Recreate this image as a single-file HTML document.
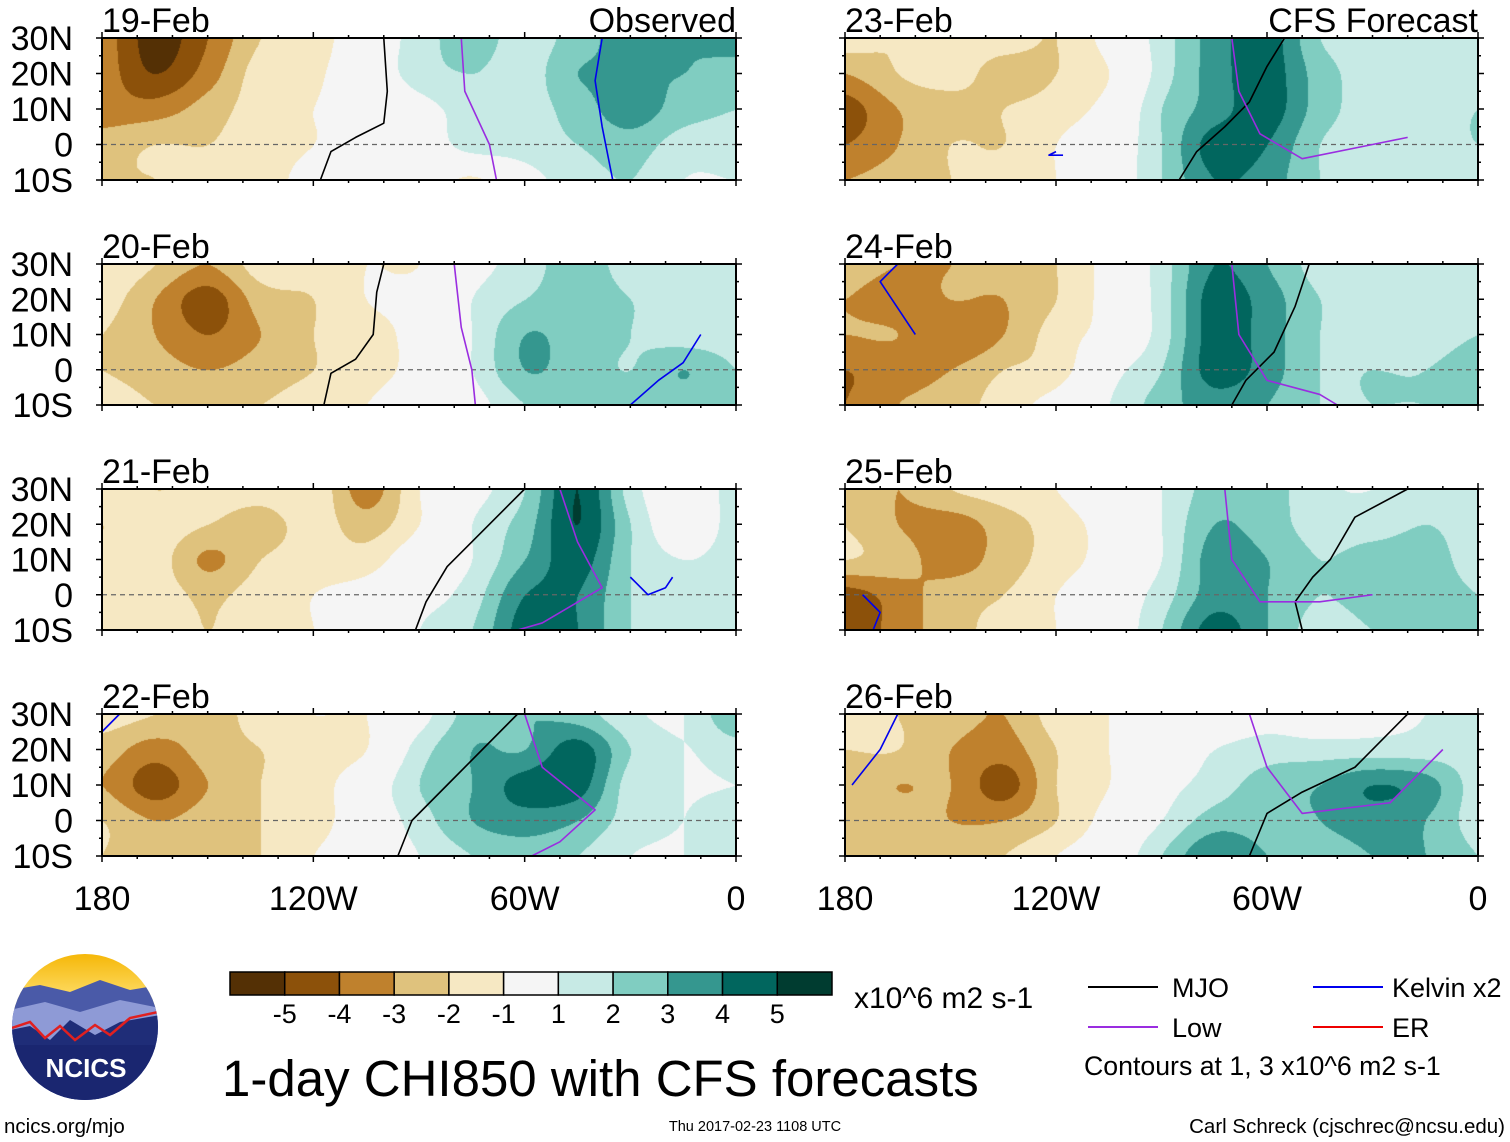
<!DOCTYPE html>
<html><head><meta charset="utf-8">
<style>
html,body{margin:0;padding:0;background:#fff;}
#wrap{position:relative;width:1510px;height:1142px;overflow:hidden;font-family:"Liberation Sans",sans-serif;}
canvas{position:absolute;}
svg{position:absolute;left:0;top:0;}
</style></head><body>
<div id="wrap">
<svg id="ov" width="1510" height="1142"></svg>
</div>
<script>
// ---- data ----
const lons = [180,165,150,135,120,105,90,75,60,45,30,15,0]; // degrees W
const lats = [30,20,10,0,-10];
const panelDates = ["19-Feb","20-Feb","21-Feb","22-Feb","23-Feb","24-Feb","25-Feb","26-Feb"];
const levelBounds = [-5,-4,-3,-2,-1,1,2,3,4,5];
const levelColors = ['#543005','#8c510a','#bf812d','#dfc27d','#f6e8c3','#f5f5f5','#c7eae5','#80cdc1','#35978f','#01665e','#003c30'];
const cbarLabels = ["-5","-4","-3","-2","-1","1","2","3","4","5"];
const latLabels = ["30N","20N","10N","0","10S"];
const lonLabels = ["180","120W","60W","0"];
const lonLabelVals = [180,120,60,0];
const field19 = [
[-3.5,-5.5,-4,-2,-1.5,0,1.5,2.5,1.5,2.5,3.5,3,3.5],
[-3.5,-5,-3.5,-1.5,-1.2,0,1.5,2,1.5,3,3,3,2.5],
[-3.5,-3.5,-2.5,-1.5,-1,-0.5,0.5,1.5,1.5,2.5,3.5,2.5,2],
[-2.5,-2,-2,-1.5,-1,-0.5,0,1.5,1.5,2,2.5,1.5,1.5],
[-2,-2,-1.8,-1.5,-0.5,0,0,-1.2,0.5,1.5,2,1,1]];
const field20 = [
[-1,-2,-3,-1.5,-1.5,-1,-1,0.5,1.5,2.5,1.5,1,1.5],
[-1.5,-3,-4.5,-2.5,-2,-1,-0.5,1,2,2.5,2,1.5,1.5],
[-2,-3,-4,-3,-2,-1.5,-0.5,1,3,2.5,2,1.5,1.5],
[-2,-2.5,-3,-2.5,-2,-1.5,-0.5,1,3,2.5,2,3,2],
[-1.5,-2,-2,-2,-1.5,-1,0,0.5,2,2.5,2.5,2.5,2]];
const field21 = [
[-1,-2,-1.5,-1.5,-1.2,-3.5,-1,0.5,2,5,1.5,0,1.5],
[-2,-1.5,-2,-2.5,-1.5,-2.5,-1,1,2.5,5,2,0,1.5],
[-1.5,-1.5,-3.2,-2,-1.5,-1.5,0,1,3,4.5,2,1,1.5],
[-1.5,-1.5,-2.2,-1.5,-1,-0.5,0.5,1.5,4,4,2,1.5,1.5],
[-1,-1.5,-2,-1.5,-1,-0.5,1,2,4.5,4,2,1.5,1]];
const field22 = [
[-1.5,-2,-2.5,-1.5,-1,-1,0.5,2.5,3,2.5,1.2,1,3],
[-2.5,-3.5,-2.5,-2,-1.5,-1,1.5,3,3,4.5,2,1,1.5],
[-3,-4.5,-3,-2,-1.5,0,2,3,4.5,4.5,1.5,1,1],
[-2,-3,-2.5,-2,-1.5,0,1.5,3,3.5,3,1.5,1,1.5],
[-2,-2.5,-3,-2,-1,0,1,2,2.5,2,1,1,1.5]];
const field23 = [
[-1.5,-2,-1.5,-1.5,-2,-0.5,1.5,3.5,4.5,2,1.5,1.5,1.5],
[-3,-2,-1.5,-2.5,-2,-1,1.5,3.5,4.5,2.5,1.5,1.5,1.5],
[-4.5,-3,-2.5,-2,-1.5,-0.5,2,3.5,4.5,2.5,1.5,1.5,2],
[-4,-3,-2,-2,-1,0,2,4.5,4,2,1.5,1.5,2],
[-3,-2.5,-2,-1.5,-1,0,2,4,3.5,2,1.5,1.5,1.5]];
const field24 = [
[-2.5,-3,-3,-2.5,-2,-0.5,1.5,4,3,1.5,1,1.5,1.5],
[-3,-3.5,-3,-3,-2,-0.5,1.5,4.5,3.5,2,1.5,1.5,1.5],
[-3,-3,-4,-3,-1.5,-0.5,1.5,4.5,3.5,2,1.5,1.5,2],
[-4,-3.5,-3,-2,-1.5,0.5,2,4.5,3.5,2,2,2,2.5],
[-4,-3,-2.5,-1.5,-0.5,1,2.5,3.5,3,2,2,2,2]];
const field25 = [
[-2,-3,-2,-1.5,-1,0,1,2.5,2.5,1.2,1,1.5,1.5],
[-2,-3,-3.5,-2.5,-1.5,-0.5,1,3,2.5,1.5,1.5,2,1.5],
[-2,-2.5,-3.5,-2.5,-1.5,-0.5,1,3.5,3,2,2.5,2.5,1.5],
[-4.5,-3.5,-2.5,-2,-1,0,1.5,3.5,3,2,2.5,2.5,2],
[-5,-3.5,-2.5,-1.5,-1,0,2,4.5,3,1.5,2,2,2]];
const field26 = [
[-1.5,-2,-2.5,-3,-1.5,-1,0,0,0.5,0,0.5,1,1.5],
[-2,-2,-3,-3.5,-2,-1,0,1,1.5,1.5,1.5,1.5,1.5],
[-2.5,-3,-3,-4.5,-2,-1,0.5,1.5,2.5,3,4,3.5,1.5],
[-2.5,-2.5,-3,-3,-2,-0.5,1,2.5,2.5,3,3.5,3,1.5],
[-2.5,-2.5,-2.5,-2,-1,0,2,4,3,2.5,3,3,2]];
const fields = [field19,field20,field21,field22,field23,field24,field25,field26];
// contour lines [lonW, lat]
const mjoLines = [
[[118,-10],[115,-2],[108,2],[100,6],[99,15],[100,30]],
[[117,-10],[115,-1],[108,3],[103,10],[102,22],[100,30]],
[[91,-10],[88,-2],[82,8],[72,18],[60,30]],
[[96,-10],[92,0],[82,10],[72,20],[62,30]],
[[85,-10],[80,-2],[72,5],[65,12],[60,22],[55,30]],
[[70,-10],[66,-3],[58,5],[52,18],[48,30]],
[[50,-10],[52,-2],[47,5],[42,10],[35,22],[20,30]],
[[65,-10],[60,2],[50,8],[35,15],[20,30]]];
const lowLines = [
[[78,30],[77,15],[70,0],[68,-10]],
[[80,30],[78,12],[75,0],[74,-10]],
[[50,30],[45,15],[38,2],[55,-8],[62,-10]],
[[60,30],[55,15],[40,3],[50,-6],[58,-10]],
[[70,30],[68,15],[62,3],[50,-4],[30,0],[20,2]],
[[70,30],[68,10],[60,-3],[45,-7],[40,-10]],
[[72,30],[70,10],[62,-2],[45,-2],[30,0]],
[[65,30],[60,15],[50,2],[25,5],[10,20]]];
const kelvinLines = [
[[35,-10],[38,5],[40,18],[38,30]],
[[10,10],[15,2],[22,-3],[30,-10]],
[[30,5],[25,0],[20,2],[18,5]],
[[180,25],[175,30]],
[[120,-2],[122,-3],[118,-3]],
[[160,10],[170,25],[165,30]],
[[175,0],[170,-5],[172,-10]],
[[178,10],[170,20],[165,30]]];
// ---- layout ----
const panels = [];
const colX = [[102,736],[845,1478]];
const rowY = [[38,180],[264,405],[489,630],[714,856]];
for(let c=0;c<2;c++)for(let r=0;r<4;r++)panels.push({x0:colX[c][0],x1:colX[c][1],y0:rowY[r][0],y1:rowY[r][1]});
const wrap=document.getElementById('wrap');
const ov=document.getElementById('ov');
const NS="http://www.w3.org/2000/svg";
function mk(tag,attrs,parent){const e=document.createElementNS(NS,tag);for(const k in attrs)e.setAttribute(k,attrs[k]);(parent||ov).appendChild(e);return e;}
function levelOf(v){let i=0;while(i<levelBounds.length&&v>=levelBounds[i])i++;return i;}
function hex(c){return [parseInt(c.substr(1,2),16),parseInt(c.substr(3,2),16),parseInt(c.substr(5,2),16)];}
const rgb=levelColors.map(hex);
function cr(p0,p1,p2,p3,t){return 0.5*((2*p1)+(-p0+p2)*t+(2*p0-5*p1+4*p2-p3)*t*t+(-p0+3*p1-3*p2+p3)*t*t*t);}
function get(f,j,i){j=Math.max(0,Math.min(4,j));i=Math.max(0,Math.min(12,i));return f[j][i];}
function sample(f,lonW,lat){
  let fx=(180-lonW)/15, fy=(30-lat)/10;
  fx=Math.max(0,Math.min(12,fx)); fy=Math.max(0,Math.min(4,fy));
  const i=Math.min(11,Math.floor(fx)), j=Math.min(3,Math.floor(fy));
  const tx=fx-i, ty=fy-j;
  const rows=[];
  for(let m=-1;m<=2;m++)rows.push(cr(get(f,j+m,i-1),get(f,j+m,i),get(f,j+m,i+1),get(f,j+m,i+2),tx));
  return cr(rows[0],rows[1],rows[2],rows[3],ty);
}
panels.forEach((p,k)=>{
  const w=p.x1-p.x0,h=p.y1-p.y0;
  const cv=document.createElement('canvas');
  cv.width=w;cv.height=h;cv.style.left=p.x0+'px';cv.style.top=p.y0+'px';
  
  
  wrap.insertBefore(cv,ov);
  const ctx=cv.getContext('2d');const img=ctx.createImageData(w,h);
  for(let y=0;y<h;y++)for(let x=0;x<w;x++){
    const v=sample(fields[k],180-x/w*180,30-y/h*40);
    const c=rgb[levelOf(v)];const o=(y*w+x)*4;
    img.data[o]=c[0];img.data[o+1]=c[1];img.data[o+2]=c[2];img.data[o+3]=255;
  }
  ctx.putImageData(img,0,0);
  const X=lon=>p.x0+(180-lon)/180*w, Y=lat=>p.y0+(30-lat)/40*h;
  const g=mk('g',{});
  
  
  const eq=mk('line',{x1:p.x0,x2:p.x1,y1:Y(0),y2:Y(0),stroke:'#666','stroke-width':1.2,'stroke-dasharray':'5,4'},g);
  
  const drawLine=(pts,col,name)=>{
    const pl=mk('polyline',{points:pts.map(q=>X(q[0])+','+Y(q[1])).join(' '),fill:'none',stroke:col,'stroke-width':1.6,'stroke-linejoin':'round'},g);
    
  };
  drawLine(mjoLines[k],'#000','mjo-contour');
  drawLine(lowLines[k],'#9a2de0','low-contour');
  drawLine(kelvinLines[k],'#0000ee','kelvin-contour');
  const fr=mk('rect',{x:p.x0,y:p.y0,width:w,height:h,fill:'none',stroke:'#000','stroke-width':2},g);
  
  for(let lon=180;lon>=0;lon-=10){
    const major=lon%60===0, L=major?6:3;
    mk('line',{x1:X(lon),x2:X(lon),y1:p.y0,y2:p.y0-L,stroke:'#000','stroke-width':1.5},g);
    mk('line',{x1:X(lon),x2:X(lon),y1:p.y1,y2:p.y1+L,stroke:'#000','stroke-width':1.5},g);
  }
  for(let lat=30;lat>=-10;lat-=5){
    const L=lat%10===0?6:3;
    mk('line',{x1:p.x0,x2:p.x0-L,y1:Y(lat),y2:Y(lat),stroke:'#000','stroke-width':1.5},g);
    mk('line',{x1:p.x1,x2:p.x1+L,y1:Y(lat),y2:Y(lat),stroke:'#000','stroke-width':1.5},g);
  }
  const t=mk('text',{x:p.x0,y:p.y0-6,'font-size':34},g);t.textContent=panelDates[k];
  
  if(k<4){
    lats.forEach((lat,i)=>{const tt=mk('text',{x:73,y:Y(lat)+12,'font-size':34,'text-anchor':'end'},g);tt.textContent=latLabels[i];
      });
  }
  if(k%4===3){
    lonLabelVals.forEach((lv,i)=>{const tt=mk('text',{x:X(lv),y:910,'font-size':34,'text-anchor':'middle'},g);tt.textContent=lonLabels[i];
      });
  }
});
function txt(s,attrs,name){const t=mk('text',attrs);t.textContent=s;return t;}
txt('Observed',{x:736,y:32,'font-size':34,'text-anchor':'end'},'observed-label');
txt('CFS Forecast',{x:1478,y:32,'font-size':34,'text-anchor':'end'},'forecast-label');
const cbX0=230,cbX1=832,cbY=972,cbH=23;
const cw=(cbX1-cbX0)/levelColors.length;
levelColors.forEach((c,i)=>{
  const r=mk('rect',{x:cbX0+i*cw,y:cbY,width:cw,height:cbH,fill:c,stroke:'#000','stroke-width':1.5});
  
});
cbarLabels.forEach((s,i)=>txt(s,{x:cbX0+(i+1)*cw,y:1023,'font-size':27,'text-anchor':'middle'},'colorbar-label'));
txt('x10^6 m2 s-1',{x:854,y:1008,'font-size':30},'colorbar-units');
txt('1-day CHI850 with CFS forecasts',{x:222,y:1096,'font-size':51},'chart-title');
const leg=[['MJO','#000',1088,987,1172],['Low','#9a2de0',1088,1027,1172],['Kelvin x2','#0000ee',1313,987,1392],['ER','#ee0000',1313,1027,1392]];
leg.forEach(l=>{
  const ln=mk('line',{x1:l[2],x2:l[2]+70,y1:l[3],y2:l[3],stroke:l[1],'stroke-width':2});
  
  txt(l[0],{x:l[4],y:l[3]+10,'font-size':27},'legend-entry');
});
txt('Contours at 1, 3 x10^6 m2 s-1',{x:1084,y:1075,'font-size':26.7},'contour-note');
txt('ncics.org/mjo',{x:4,y:1133,'font-size':20.5},'source-url');
txt('Thu 2017-02-23 1108 UTC',{x:755,y:1131,'font-size':14.5,'text-anchor':'middle'},'timestamp');
txt('Carl Schreck (cjschrec@ncsu.edu)',{x:1505,y:1133,'font-size':20.5,'text-anchor':'end'},'author-credit');
const lg=mk('g',{});
mk('defs',{},lg).innerHTML='<clipPath id="lc"><circle cx="85" cy="1027" r="73"/></clipPath><linearGradient id="sky" x1="0" y1="0" x2="0" y2="1"><stop offset="0" stop-color="#f5b400"/><stop offset="1" stop-color="#ffe680"/></linearGradient>';
const cg=mk('g',{'clip-path':'url(#lc)'},lg);
mk('rect',{x:10,y:950,width:150,height:60,fill:'url(#sky)'},cg);
mk('path',{d:'M10 990 L40 985 L70 992 L100 980 L130 990 L160 985 L160 1110 L10 1110Z',fill:'#4a5aa8'},cg);
mk('path',{d:'M10 1010 L45 1002 L80 1012 L120 1000 L160 1008 L160 1110 L10 1110Z',fill:'#8e9ad6'},cg);
mk('path',{d:'M10 1030 L30 1026 L50 1040 L70 1020 L95 1035 L120 1022 L160 1015 L160 1110 L10 1110Z',fill:'#1f2d78'},cg);
mk('polyline',{points:'12,1028 30,1022 45,1038 60,1026 75,1040 95,1025 110,1035 130,1018 158,1012',fill:'none',stroke:'#e02020','stroke-width':2.5},cg);
mk('rect',{x:10,y:1045,width:150,height:60,fill:'#1a2670'},cg);
txt('NCICS',{x:86,y:1077,'font-size':26,'font-weight':'bold','fill':'#fff','text-anchor':'middle'},'logo-text');
</script>
</body></html>
